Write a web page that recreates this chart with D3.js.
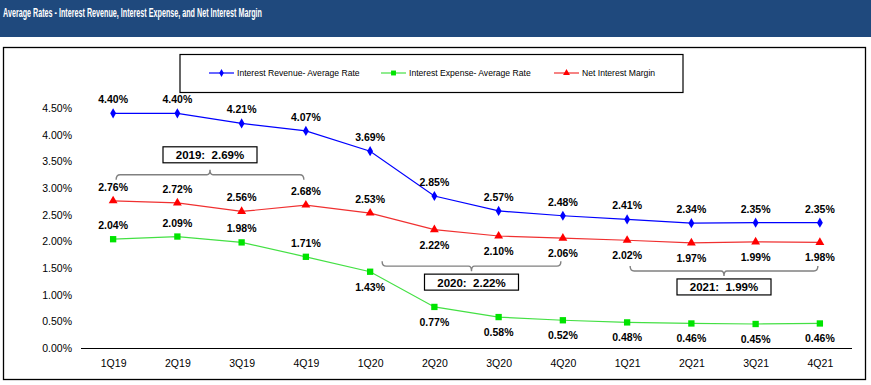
<!DOCTYPE html>
<html lang="en">
<head>
<meta charset="UTF-8">
<title>Average Rates</title>
<script src="https://d3js.org/d3.v7.min.js"></script>
<style>
  body { margin: 0; padding: 0; background: #ffffff; overflow: hidden; }
  svg { display: block; font-family: 'Liberation Sans', Arial, sans-serif; }
  .tick-label { font-size: 10.5px; fill: #000; }
  .data-label { font-size: 10.5px; font-weight: bold; fill: #000; text-anchor: middle; }
  .legend-text { font-size: 8.6px; fill: #000; }
  .box-text { font-size: 11.5px; font-weight: bold; fill: #000; text-anchor: middle; }
</style>
</head>
<body>
<svg id="chart" width="871" height="385"></svg>
<script>
// --- data ---
const quarters = ["1Q19", "2Q19", "3Q19", "4Q19", "1Q20", "2Q20", "3Q20", "4Q20", "1Q21", "2Q21", "3Q21", "4Q21"];
const revenueRate = [4.40, 4.40, 4.21, 4.07, 3.69, 2.85, 2.57, 2.48, 2.41, 2.34, 2.35, 2.35];
const expenseRate = [2.04, 2.09, 1.98, 1.71, 1.43, 0.77, 0.58, 0.52, 0.48, 0.46, 0.45, 0.46];
const netMargin   = [2.76, 2.72, 2.56, 2.68, 2.53, 2.22, 2.10, 2.06, 2.02, 1.97, 1.99, 1.98];
const yTicks = [0, 0.5, 1.0, 1.5, 2.0, 2.5, 3.0, 3.5, 4.0, 4.5];
const annualYears  = ["2019", "2020", "2021"];
const annualNim    = [2.69, 2.22, 1.99];
const annualFrom   = ["1Q19", "1Q20", "1Q21"];
const annualTo     = ["4Q19", "4Q20", "4Q21"];

const series = [
  { name: "Interest Revenue- Average Rate", values: revenueRate, line: "#0000ff", fill: "#0000ff", shape: d3.symbolDiamond, size: 30, below: -1 },
  { name: "Interest Expense- Average Rate", values: expenseRate, line: "#44e044", fill: "#00e400", shape: d3.symbolSquare, size: 40, below: 4 },
  { name: "Net Interest Margin",            values: netMargin,   line: "#f03030", fill: "#ff0000", shape: d3.symbolTriangle, size: 34, below: 5 }
];

const svg = d3.select("#chart");
const fmt = v => v.toFixed(2) + "%";

// title banner
svg.append("rect").attr("x", 0).attr("y", 0).attr("width", 871).attr("height", 37).attr("fill", "#1f497d");
svg.append("text")
  .attr("x", 3).attr("y", 17)
  .attr("fill", "#fff")
  .attr("font-family", "'Liberation Sans Narrow', 'Arial Narrow', 'Liberation Sans', Arial, sans-serif")
  .attr("font-weight", "bold").attr("font-size", 12.5)
  .attr("textLength", 259).attr("lengthAdjust", "spacingAndGlyphs")
  .text("Average Rates - Interest Revenue, Interest Expense, and Net Interest Margin");

// chart frame
svg.append("rect").attr("x", 3.5).attr("y", 47.5).attr("width", 862).attr("height", 332)
  .attr("fill", "#fff").attr("stroke", "#000").attr("stroke-width", 1.3);

// scales
const x = d3.scalePoint().domain(quarters).range([81, 852]).padding(0.5);
const y = d3.scaleLinear().domain([0, 4.5]).range([348, 108]);

// y axis labels (no axis line)
const yAxis = svg.append("g").attr("transform", "translate(72,0)")
  .call(d3.axisLeft(y).tickValues(yTicks).tickFormat(d => d.toFixed(2) + "%").tickSize(0).tickPadding(0));
yAxis.select(".domain").remove();
yAxis.selectAll("text").attr("class", "tick-label").attr("font-family", null).attr("font-size", null);

// x axis
const xAxis = svg.append("g").attr("transform", "translate(0,348)")
  .call(d3.axisBottom(x).tickSize(0).tickPadding(12));
xAxis.select(".domain").attr("d", "M81,0.5H852").attr("stroke", "#000").attr("stroke-width", 1.2);
xAxis.selectAll("text").attr("class", "tick-label").attr("font-family", null).attr("font-size", null);

// lines, markers, labels
const lineGen = d3.line().x((d, i) => x(quarters[i])).y(d => y(d));
series.forEach(s => {
  svg.append("path").datum(s.values).attr("d", lineGen)
    .attr("fill", "none").attr("stroke", s.line).attr("stroke-width", 1.2);
  svg.append("g").selectAll("path").data(s.values).join("path")
    .attr("transform", (d, i) => `translate(${x(quarters[i])},${y(d)})`)
    .attr("d", d3.symbol().type(s.shape).size(s.size))
    .attr("fill", s.fill);
  svg.append("g").selectAll("text").data(s.values).join("text")
    .attr("class", "data-label")
    .attr("x", (d, i) => x(quarters[i]))
    .attr("y", (d, i) => (s.below >= 0 && i >= s.below) ? y(d) + 19 : y(d) - 10)
    .text(fmt);
});

// annual brackets
const bracketColor = "#808080";
annualYears.forEach((yr, k) => {
  const i0 = quarters.indexOf(annualFrom[k]);
  const i1 = quarters.indexOf(annualTo[k]);
  const slice = netMargin.slice(i0, i1 + 1);
  const up = k === 0; // 2019 bracket sits above the line, others below
  const x0 = x(annualFrom[k]) + (k === 1 ? 12 : 3);
  const x1 = x(annualTo[k]) - 2;
  const by = up ? y(d3.max(slice)) - 26 : y(d3.min(slice)) + 28;
  const dir = up ? 1 : -1; // end tick direction
  const cx = (x0 + x1) / 2;
  svg.append("path")
    .attr("d", `M${x0},${by + dir * 5}Q${x0},${by} ${x0 + 4},${by}H${cx - 3}Q${cx},${by} ${cx},${by - dir * 5}Q${cx},${by} ${cx + 3},${by}H${x1 - 4}Q${x1},${by} ${x1},${by + dir * 5}`)
    .attr("fill", "none").attr("stroke", bracketColor).attr("stroke-width", 1.4);
  const bw = 94, bh = 16;
  const boxY = up ? by - 28 : by + 8;
  svg.append("rect").attr("x", cx - bw / 2).attr("y", boxY).attr("width", bw).attr("height", bh)
    .attr("fill", "#fff").attr("stroke", "#000").attr("stroke-width", 1.2);
  svg.append("text").attr("class", "box-text").attr("x", cx).attr("y", boxY + 12.5)
    .attr("xml:space", "preserve").style("white-space", "pre")
    .text(`${yr}:  ${annualNim[k].toFixed(2)}%`);
});

// legend
svg.append("rect").attr("x", 180).attr("y", 54.5).attr("width", 503).attr("height", 38)
  .attr("fill", "#fff").attr("stroke", "#000").attr("stroke-width", 1.2);
const legendX = [209, 381, 554];
series.forEach((s, k) => {
  const lx = legendX[k], ly = 73;
  svg.append("line").attr("x1", lx).attr("x2", lx + 25).attr("y1", ly).attr("y2", ly)
    .attr("stroke", s.line).attr("stroke-width", 1.2);
  svg.append("path").attr("transform", `translate(${lx + 12.5},${ly})`)
    .attr("d", d3.symbol().type(s.shape).size(s.size * 0.6)).attr("fill", s.fill);
  svg.append("text").attr("class", "legend-text").attr("x", lx + 28).attr("y", ly + 3.2).text(s.name);
});
</script>
</body>
</html>
